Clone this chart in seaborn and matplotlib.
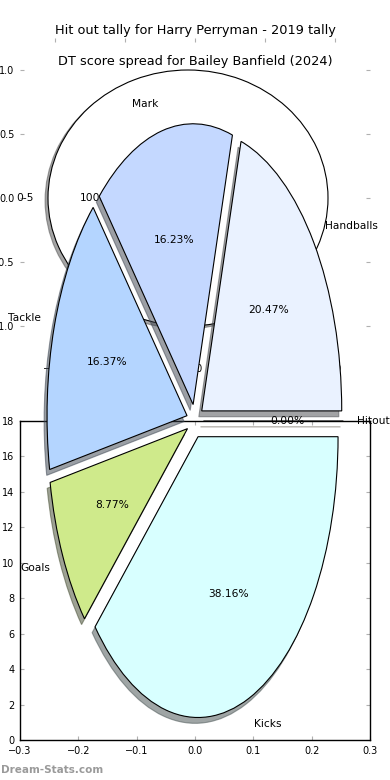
import matplotlib
matplotlib.use("Agg")
import matplotlib.pyplot as plt
import seaborn as sns

# hit out pie (back panel)
hitout_labels = ["0-5"]
hitout_values = [100.0]
hitout_colors = ["#ffffff"]

# DT score spread pie (front panel)
dt_labels = ["Handballs", "Mark", "Tackle", "Goals", "Kicks", "Hitout"]
dt_values = [20.47, 16.23, 16.37, 8.77, 38.16, 0.00]
dt_colors = ["#eaf2ff", "#c4d8ff", "#b4d5ff", "#cfea8b", "#d8ffff", "#ffe4b5"]

pie_ticks = [-1.0, -0.5, 0.0, 0.5, 1.0]
grid_xticks = [-0.3, -0.2, -0.1, 0.0, 0.1, 0.2, 0.3]
grid_yticks = [0, 2, 4, 6, 8, 10, 12, 14, 16, 18]

sns.set_style("ticks")
plt.rcParams["font.family"] = ["DejaVu Sans"]
plt.rcParams["text.color"] = "black"

W, H = 390, 780
fig = plt.figure(figsize=(W / 100, H / 100), dpi=100)


def box(left, top, right, bottom):
    return [left / W, 1 - bottom / H, (right - left) / W, (bottom - top) / H]


tick_kw = dict(direction="in", length=3, width=0.8, color="#b0b0b0",
               labelsize=7, labelcolor="black", pad=4,
               top=True, right=True, bottom=True, left=True)
wedge_kw = dict(edgecolor="black", linewidth=0.8)
text_kw = dict(fontsize=7.7, color="black")
shadow_kw = {"ox": -0.015, "oy": -0.015}

# back axes: hit out tally
ax1 = fig.add_axes(box(20, 38, 370, 358))
ax1.pie(hitout_values, labels=hitout_labels, colors=hitout_colors,
        explode=[0.05], autopct="%1.2f%%", shadow=shadow_kw,
        wedgeprops=wedge_kw, textprops=text_kw)
ax1.set_aspect("auto")
ax1.set_xlim(-1.25, 1.25)
ax1.set_ylim(-1.25, 1.25)
ax1.set_xticks(pie_ticks)
ax1.set_yticks(pie_ticks)
ax1.tick_params(**tick_kw)
ax1.set_title("Hit out tally for Harry Perryman - 2019 tally", fontsize=9.3,
              pad=3, color="black")

# lower framed axes
ax3 = fig.add_axes(box(20, 421, 370, 740))
ax3.set_xlim(-0.3, 0.3)
ax3.set_ylim(0, 18)
ax3.set_xticks(grid_xticks)
ax3.set_yticks(grid_yticks)
ax3.tick_params(**tick_kw)
for sp in ax3.spines.values():
    sp.set_visible(True)
    sp.set_color("black")
    sp.set_linewidth(1.0)

# front axes: DT score spread
ax2 = fig.add_axes(box(20, 70, 370, 772))
ax2.pie(dt_values, labels=dt_labels, colors=dt_colors,
        explode=[0.06] * len(dt_values), autopct="%1.2f%%", shadow=shadow_kw,
        startangle=0, wedgeprops=wedge_kw, textprops=text_kw)
ax2.set_aspect("auto")
ax2.set_xlim(-1.25, 1.25)
ax2.set_ylim(-1.25, 1.25)
ax2.set_title("DT score spread for Bailey Banfield (2024)", fontsize=9.3,
              pad=3.5, color="black")

fig.text(1 / W, 1 - 770 / H, "Dream-Stats.com", color="#9a9a9a",
         fontsize=7.5, fontweight="bold", va="center", ha="left")

fig.savefig("out.png", dpi=100)
plt.close(fig)
